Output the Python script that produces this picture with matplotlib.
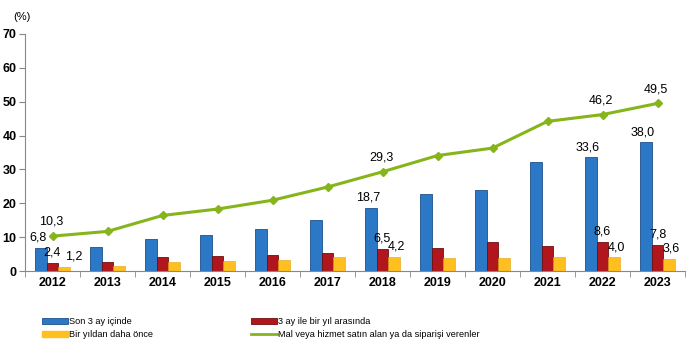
import matplotlib
matplotlib.use("Agg")
import matplotlib.pyplot as plt
import numpy as np
from matplotlib.lines import Line2D
from matplotlib.patches import Patch
from matplotlib.font_manager import FontProperties

plt.rcParams['font.family'] = ['Liberation Sans', 'DejaVu Sans']

years = ['2012', '2013', '2014', '2015', '2016', '2017', '2018', '2019', '2020', '2021', '2022', '2023']
son3ay = [6.8, 7.1, 9.5, 10.5, 12.3, 15.0, 18.7, 22.6, 23.8, 32.1, 33.6, 38.0]
ay3_yil = [2.4, 2.6, 4.0, 4.4, 4.6, 5.2, 6.5, 6.8, 8.6, 7.4, 8.6, 7.8]
yildan_once = [1.2, 1.5, 2.7, 3.0, 3.3, 4.1, 4.2, 3.8, 3.9, 4.2, 4.0, 3.6]
toplam = [10.3, 11.7, 16.4, 18.3, 20.9, 24.8, 29.3, 34.1, 36.3, 44.2, 46.2, 49.5]
labelled_years = ['2012', '2018', '2022', '2023']

series_names = ['Son 3 ay içinde', '3 ay ile bir yıl arasında', 'Bir yıldan daha önce',
                'Mal veya hizmet satın alan ya da siparişi verenler']
yticks = [0, 10, 20, 30, 40, 50, 60, 70]

c_blue = '#2B78C6'
c_red = '#B0161C'
c_yel = '#FFBF1F'
c_grn = '#86B51B'

def fmt(v):
    return f"{v:.1f}".replace('.', ',')

fig = plt.figure(figsize=(6.98, 3.54), dpi=100)
ax = fig.add_axes([25/698, 1-271/354, (685-25)/698, (271-34)/354])

x = np.arange(len(years))
w = 0.218
ax.bar(x - w, son3ay, w, color=c_blue, edgecolor='#1F4F8A', linewidth=0.6)
ax.bar(x, ay3_yil, w, color=c_red, edgecolor='#6E0E10', linewidth=0.6)
ax.bar(x + w, yildan_once, w, color=c_yel, edgecolor='#E0A010', linewidth=0.4)
ax.plot(x, toplam, color=c_grn, lw=2.2, marker='D', ms=4, zorder=5)

fs = 9
for i, y in enumerate(years):
    if y not in labelled_years:
        continue
    dx3 = 7 if i == 0 else 1
    ax.annotate(fmt(son3ay[i]), (x[i] - w, son3ay[i]), xytext=(-2, 3), textcoords='offset points',
                ha='center', va='bottom', fontsize=fs)
    ax.annotate(fmt(ay3_yil[i]), (x[i], ay3_yil[i]), xytext=(0, 3), textcoords='offset points',
                ha='center', va='bottom', fontsize=fs)
    ax.annotate(fmt(yildan_once[i]), (x[i] + w, yildan_once[i]), xytext=(dx3, 3), textcoords='offset points',
                ha='center', va='bottom', fontsize=fs)
    ax.annotate(fmt(toplam[i]), (x[i], toplam[i]), xytext=(-1, 6), textcoords='offset points',
                ha='center', va='bottom', fontsize=fs)

ax.set_xlim(-0.5, len(years) - 0.5)
ax.set_ylim(0, 70)
ax.set_yticks(yticks)
ax.set_yticklabels([str(t) for t in yticks], fontsize=9, fontweight='bold')
ax.set_xticks(x)
ax.set_xticklabels(years, fontsize=9, fontweight='bold')
ax.set_xticks(np.arange(-0.5, len(years), 1), minor=True)
ax.tick_params(axis='x', which='major', length=0, pad=4)
ax.tick_params(axis='x', which='minor', length=4, color='#888888', direction='out')
ax.tick_params(axis='y', length=4, color='#888888', direction='out', pad=2)
for s in ['top', 'right']:
    ax.spines[s].set_visible(False)
for s in ['left', 'bottom']:
    ax.spines[s].set_color('#888888')
    ax.spines[s].set_linewidth(0.8)

fig.text(22/698, 1-17/354, '(%)', fontsize=8, ha='center', va='center')

leg_font = FontProperties(family='Liberation Sans', size=6.6)

h_blue = Patch(facecolor=c_blue, edgecolor='#1F4F8A', linewidth=0.6)
h_yel = Patch(facecolor=c_yel, edgecolor=c_yel)
h_red = Patch(facecolor=c_red, edgecolor='#6E0E10', linewidth=0.6)
h_grn = Line2D([], [], color=c_grn, lw=2)

common = dict(loc='upper left', frameon=False, prop=leg_font, handlelength=2.8, handleheight=0.6,
              handletextpad=0.15, labelspacing=0.45, borderaxespad=0, borderpad=0)
fig.legend([h_blue, h_yel], [series_names[0], series_names[2]],
           bbox_to_anchor=(42/698, 1-317/354), **common)
fig.legend([h_red, h_grn], [series_names[1], series_names[3]],
           bbox_to_anchor=(251/698, 1-317/354), **common)

fig.savefig('out.png', dpi=100)
